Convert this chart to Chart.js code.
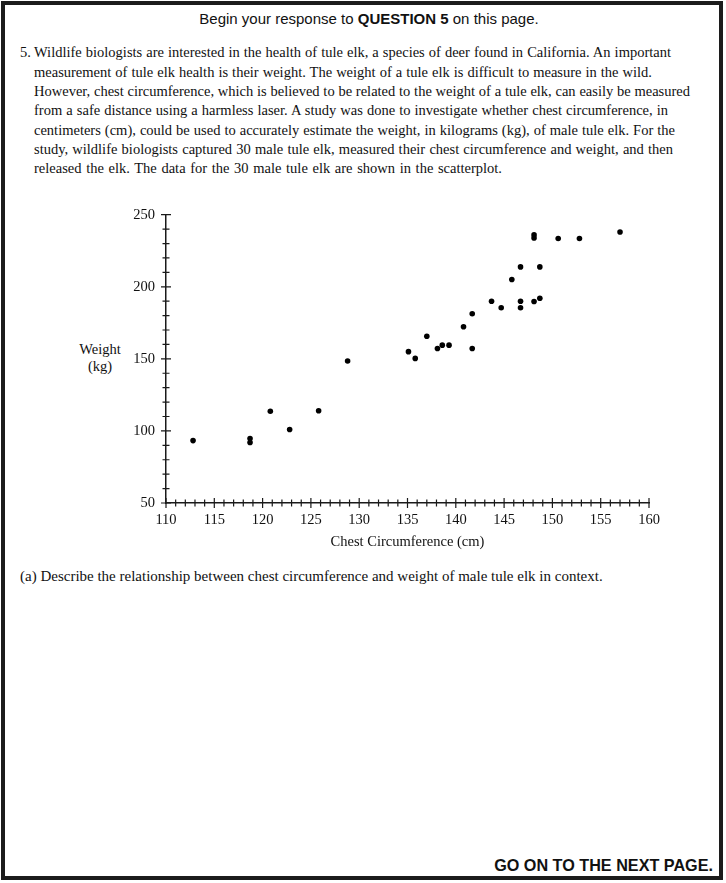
<!DOCTYPE html>
<html>
<head>
<meta charset="utf-8">
<script src="https://cdn.jsdelivr.net/npm/chart.js@4.4.1/dist/chart.umd.min.js"></script>
<style>
  html, body { margin: 0; padding: 0; background: #fff; }
  body { width: 726px; height: 883px; position: relative; overflow: hidden; }
  .frame {
    position: absolute; left: 1px; top: 1px; width: 722px; height: 879px;
    border: 4px solid #1c1c1c; box-sizing: border-box;
  }
  .sans { font-family: "Liberation Sans", Arial, sans-serif; color: #111; }
  .serif { font-family: "Liberation Serif", "Times New Roman", serif; color: #111; }
  .line { position: absolute; white-space: nowrap; font-size: 14.5px; line-height: 18px; }
  .just { text-align: justify; text-align-last: justify; white-space: normal; }
  #header { position: absolute; left: 369px; top: 10px; transform: translateX(-50%); font-size: 15px; white-space: nowrap; }
  #footer { position: absolute; right: 13px; top: 856px; font-size: 16.2px; font-weight: bold; white-space: nowrap; }
  #ylab { position: absolute; left: 70px; top: 341px; width: 60px; text-align: center; font-size: 14.5px; line-height: 16.5px; }
  #plot { position: absolute; left: 60px; top: 195px; width: 609px; height: 360px; }
</style>
</head>
<body>
<div class="frame"></div>
<div id="header" class="sans">Begin your response to <b>QUESTION 5</b> on this page.</div>

<div class="line serif" style="left:20px; top:43px;">5.</div>
<div class="line serif just" style="left:34px; top:43px; width:637px;">Wildlife biologists are interested in the health of tule elk, a species of deer found in California. An important</div>
<div class="line serif just" style="left:34px; top:63px; width:618px;">measurement of tule elk health is their weight. The weight of a tule elk is difficult to measure in the wild.</div>
<div class="line serif just" style="left:34px; top:82px; width:656px;">However, chest circumference, which is believed to be related to the weight of a tule elk, can easily be measured</div>
<div class="line serif just" style="left:34px; top:101px; width:634px;">from a safe distance using a harmless laser. A study was done to investigate whether chest circumference, in</div>
<div class="line serif just" style="left:34px; top:121px; width:641px;">centimeters (cm), could be used to accurately estimate the weight, in kilograms (kg), of male tule elk. For the</div>
<div class="line serif just" style="left:34px; top:140px; width:639px;">study, wildlife biologists captured 30 male tule elk, measured their chest circumference and weight, and then</div>
<div class="line serif just" style="left:34px; top:159px; width:468px;">released the elk. The data for the 30 male tule elk are shown in the scatterplot.</div>

<div id="ylab" class="serif">Weight<br>(kg)</div>
<div id="plot"><canvas id="elkChart"></canvas></div>

<div class="line serif" style="left:20px; top:567px; font-size:15px;">(a) Describe the relationship between chest circumference and weight of male tule elk in context.</div>

<div id="footer" class="sans">GO ON TO THE NEXT PAGE.</div>

<script>
// values (30 male tule elk)
const chestCm = [112.8, 118.7, 118.7, 120.8, 122.8, 125.8, 128.8,
  135.1, 135.8, 137, 138.1, 138.6, 139.3, 140.8, 141.7, 141.7,
  143.7, 144.7, 146.7, 146.7, 145.8, 146.7, 148.7, 148.1, 148.7,
  148.1, 148.1, 150.6, 152.8, 157];
const weightKg = [93.3, 94.7, 92, 113.7, 101, 114, 148.5,
  155, 150.3, 165.7, 157.2, 159.5, 159.5, 172.3, 181.3, 157.2,
  190, 185.4, 190, 185.4, 205, 213.8, 213.8, 189.8, 192,
  236, 233.8, 233.5, 233.5, 238];

// axis ranges and labelled ticks
const xRange = [110, 160];
const yRange = [50, 250];
const xLabels = [110, 115, 120, 125, 130, 135, 140, 145, 150, 155, 160];
const yLabels = [50, 100, 150, 200, 250];

const points = chestCm.map((x, i) => ({ x: x, y: weightKg[i] }));
const ink = "#1a1a1a";
const tickFont = { family: "Liberation Serif", size: 14.5 };

// tick marks that cross the axis line, long at labelled values
const crossTicks = {
  id: "crossTicks",
  afterDraw(chart) {
    const ctx = chart.ctx;
    const xs = chart.scales.x;
    const ys = chart.scales.y;
    ctx.save();
    ctx.strokeStyle = ink;
    ctx.lineWidth = 1.2;
    ctx.beginPath();
    xs.ticks.forEach((t) => {
      const px = xs.getPixelForValue(t.value);
      const len = xLabels.includes(t.value) ? 5 : 3.5;
      ctx.moveTo(px, xs.top - len);
      ctx.lineTo(px, xs.top + len);
    });
    ys.ticks.forEach((t) => {
      const py = ys.getPixelForValue(t.value);
      const len = yLabels.includes(t.value) ? 5 : 3.5;
      ctx.moveTo(ys.right - len, py);
      ctx.lineTo(ys.right + len, py);
    });
    ctx.stroke();
    ctx.restore();
  },
};

new Chart(document.getElementById("elkChart"), {
  type: "scatter",
  data: {
    datasets: [{
      label: "Male tule elk",
      data: points,
      backgroundColor: "#000",
      borderColor: "#000",
      borderWidth: 0,
      pointRadius: 2.8,
    }],
  },
  options: {
    responsive: true,
    maintainAspectRatio: false,
    animation: false,
    layout: { padding: { left: 0, right: 20, top: 17, bottom: 0 } },
    scales: {
      x: {
        type: "linear",
        min: xRange[0],
        max: xRange[1],
        afterFit: (s) => { s.height = 52; },
        grid: { display: false, drawTicks: false },
        border: { display: true, color: ink, width: 1.5 },
        ticks: {
          stepSize: 1,
          autoSkip: false,
          maxRotation: 0,
          padding: 8,
          color: "#111",
          font: tickFont,
          callback: (v) => (xLabels.includes(v) ? v : ""),
        },
        title: {
          display: true,
          text: "Chest Circumference (cm)",
          color: "#111",
          font: { family: "Liberation Serif", size: 14.5 },
        },
      },
      y: {
        type: "linear",
        min: yRange[0],
        max: yRange[1],
        afterFit: (s) => { s.width = 106; },
        grid: { display: false, drawTicks: false },
        border: { display: true, color: ink, width: 1.5 },
        ticks: {
          stepSize: 10,
          autoSkip: false,
          padding: 11,
          color: "#111",
          font: tickFont,
          callback: (v) => (yLabels.includes(v) ? v : ""),
        },
      },
    },
    plugins: {
      legend: { display: false },
      tooltip: { enabled: false },
    },
  },
  plugins: [crossTicks],
});
</script>
</body>
</html>
